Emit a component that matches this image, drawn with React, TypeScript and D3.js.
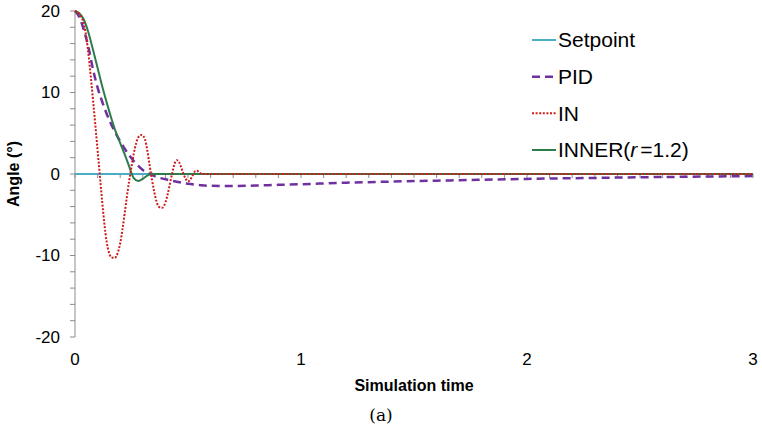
import React from "react";
import * as d3 from "d3";

const W = 762;
const H = 427;

const xTicks = [0, 1, 2, 3];
const yTicks = [-20, -10, 0, 10, 20];

const setpointT = [0, 3];
const setpointV = [0, 0];

const pidT = [0, 0.02, 0.04, 0.06, 0.08, 0.1, 0.12, 0.14, 0.16, 0.18, 0.2, 0.22, 0.24, 0.26, 0.28, 0.3, 0.33, 0.36, 0.4, 0.45, 0.5, 0.55, 0.6, 0.7, 0.8, 0.9, 1.0, 1.2, 1.4, 1.6, 1.8, 2.0, 2.2, 2.4, 2.6, 2.8, 3.0];
const pidV = [20, 19.2, 17.6, 15.5, 12.8, 10.6, 8.9, 7.4, 6.1, 5.0, 4.0, 3.1, 2.3, 1.6, 1.0, 0.5, 0, -0.35, -0.65, -0.95, -1.2, -1.35, -1.45, -1.48, -1.42, -1.33, -1.25, -1.07, -0.93, -0.82, -0.7, -0.6, -0.52, -0.44, -0.37, -0.31, -0.25];

const inT = [0, 0.02, 0.04, 0.05, 0.06, 0.07, 0.08, 0.09, 0.1, 0.11, 0.12, 0.13, 0.14, 0.15, 0.16, 0.175, 0.19, 0.2, 0.21, 0.22, 0.23, 0.24, 0.25, 0.26, 0.27, 0.28, 0.295, 0.31, 0.32, 0.33, 0.34, 0.35, 0.36, 0.37, 0.385, 0.4, 0.41, 0.42, 0.43, 0.44, 0.45, 0.46, 0.47, 0.48, 0.49, 0.5, 0.51, 0.52, 0.53, 0.54, 0.55, 0.56, 0.6, 3.0];
const inV = [20, 19.6, 18.3, 16.8, 14.6, 11.9, 9.0, 6.0, 2.9, -0.2, -3.3, -6.1, -8.3, -9.6, -10.2, -10.3, -9.6, -8.5, -6.8, -4.8, -2.7, -0.8, 0.9, 2.5, 3.7, 4.5, 4.8, 4.2, 2.9, 1.1, -0.6, -2.1, -3.3, -4.0, -4.15, -3.5, -2.5, -1.2, 0.1, 1.2, 1.7, 1.5, 0.8, 0, -0.6, -0.9, -0.7, -0.2, 0.3, 0.4, 0.2, 0, 0, 0];

const innerT = [0, 0.02, 0.04, 0.06, 0.08, 0.1, 0.12, 0.14, 0.16, 0.18, 0.2, 0.22, 0.24, 0.25, 0.26, 0.28, 0.3, 0.32, 0.34, 0.36, 3.0];
const innerV = [20, 19.7, 18.9, 17.3, 15.2, 13.0, 10.8, 8.8, 6.9, 5.2, 3.8, 2.4, 0.9, 0.1, -0.5, -0.85, -0.6, -0.2, 0.02, 0, 0];

const seriesNames = ["Setpoint", "PID", "IN", "INNER"];

const x = d3.scaleLinear().domain([0, 3]).range([75, 753]);
const y = d3.scaleLinear().domain([-20, 20]).range([337, 11]);

const line = d3
  .line<[number, number]>()
  .x((d) => x(d[0]))
  .y((d) => y(d[1]))
  .curve(d3.curveMonotoneX);

const zip = (t: number[], v: number[]): [number, number][] => t.map((tt, i) => [tt, v[i]]);

const AXIS = "#8c8c8c";
const C_SET = "#4bacc6";
const C_PID = "#7030a0";
const C_IN = "#d01a1a";
const C_INNER = "#2e7b4c";

export default function App() {
  const xMinor = d3.range(0, 3.0001, 0.1);
  const yMinor = d3.range(-20, 20.0001, 2);
  const legendY = [40, 76.7, 113.3, 150];
  const styles = [
    { stroke: C_SET, w: 2, dash: undefined as string | undefined },
    { stroke: C_PID, w: 2.5, dash: "8,5" },
    { stroke: C_IN, w: 2, dash: "2,1.6" },
    { stroke: C_INNER, w: 2, dash: undefined as string | undefined },
  ];
  return (
    <svg
      width={W}
      height={H}
      style={{ position: "absolute", left: 0, top: 0, background: "#fff" }}
      fontFamily="Liberation Sans, Arial, sans-serif"
    >
      <rect x={0} y={0} width={W} height={H} fill="#fff" />
      {/* y axis */}
      <line x1={x(0)} x2={x(0)} y1={y(-20)} y2={y(20)} stroke={AXIS} strokeWidth={1} />
      {yMinor.map((v) => (
        <line key={"ym" + v} x1={x(0) - 5} x2={x(0)} y1={y(v)} y2={y(v)} stroke={AXIS} strokeWidth={1} />
      ))}
      {yTicks.map((v) => (
        <text key={"yl" + v} x={60} y={y(v)} dy="0.35em" textAnchor="end" fontSize={17} fill="#000">
          {v}
        </text>
      ))}
      {/* x axis at y=0 */}
      <line x1={x(0)} x2={x(3)} y1={y(0)} y2={y(0)} stroke={AXIS} strokeWidth={1} />
      {xMinor.map((t, i) => (
        <line key={"xm" + i} x1={x(t)} x2={x(t)} y1={y(0)} y2={y(0) + 4} stroke={AXIS} strokeWidth={1} />
      ))}
      {xTicks.map((t) => (
        <text key={"xl" + t} x={x(t)} y={365} textAnchor="middle" fontSize={17} fill="#000">
          {t}
        </text>
      ))}
      {/* series */}
      <path d={line(zip(setpointT, setpointV)) || ""} fill="none" stroke={C_SET} strokeWidth={2} />
      <path d={line(zip(pidT, pidV)) || ""} fill="none" stroke={C_PID} strokeWidth={2.5} strokeDasharray="8,5" />
      <path d={line(zip(innerT, innerV)) || ""} fill="none" stroke={C_INNER} strokeWidth={2} />
      <path d={line(zip(inT, inV)) || ""} fill="none" stroke={C_IN} strokeWidth={2} strokeDasharray="2,1.6" />
      {/* legend */}
      {seriesNames.map((name, i) => (
        <g key={name}>
          <line
            x1={532}
            x2={556}
            y1={legendY[i]}
            y2={legendY[i]}
            stroke={styles[i].stroke}
            strokeWidth={styles[i].w}
            strokeDasharray={styles[i].dash}
          />
          <text x={558} y={legendY[i]} dy="0.35em" fontSize={21} fill="#000">
            {name === "INNER" ? (
              <>
                INNER(<tspan fontStyle="italic">r</tspan>
                <tspan dx={3}>=1.2)</tspan>
              </>
            ) : (
              name
            )}
          </text>
        </g>
      ))}
      {/* axis titles */}
      <text x={414} y={391} textAnchor="middle" fontSize={16} fontWeight="bold" fill="#000">
        Simulation time
      </text>
      <text
        transform={`translate(19, ${y(0)}) rotate(-90)`}
        textAnchor="middle"
        fontSize={16}
        fontWeight="bold"
        fill="#000"
      >
        Angle (°)
      </text>
      <text x={381} y={421} textAnchor="middle" fontSize={17} fontFamily="DejaVu Serif, serif" fill="#000">
        (a)
      </text>
    </svg>
  );
}
